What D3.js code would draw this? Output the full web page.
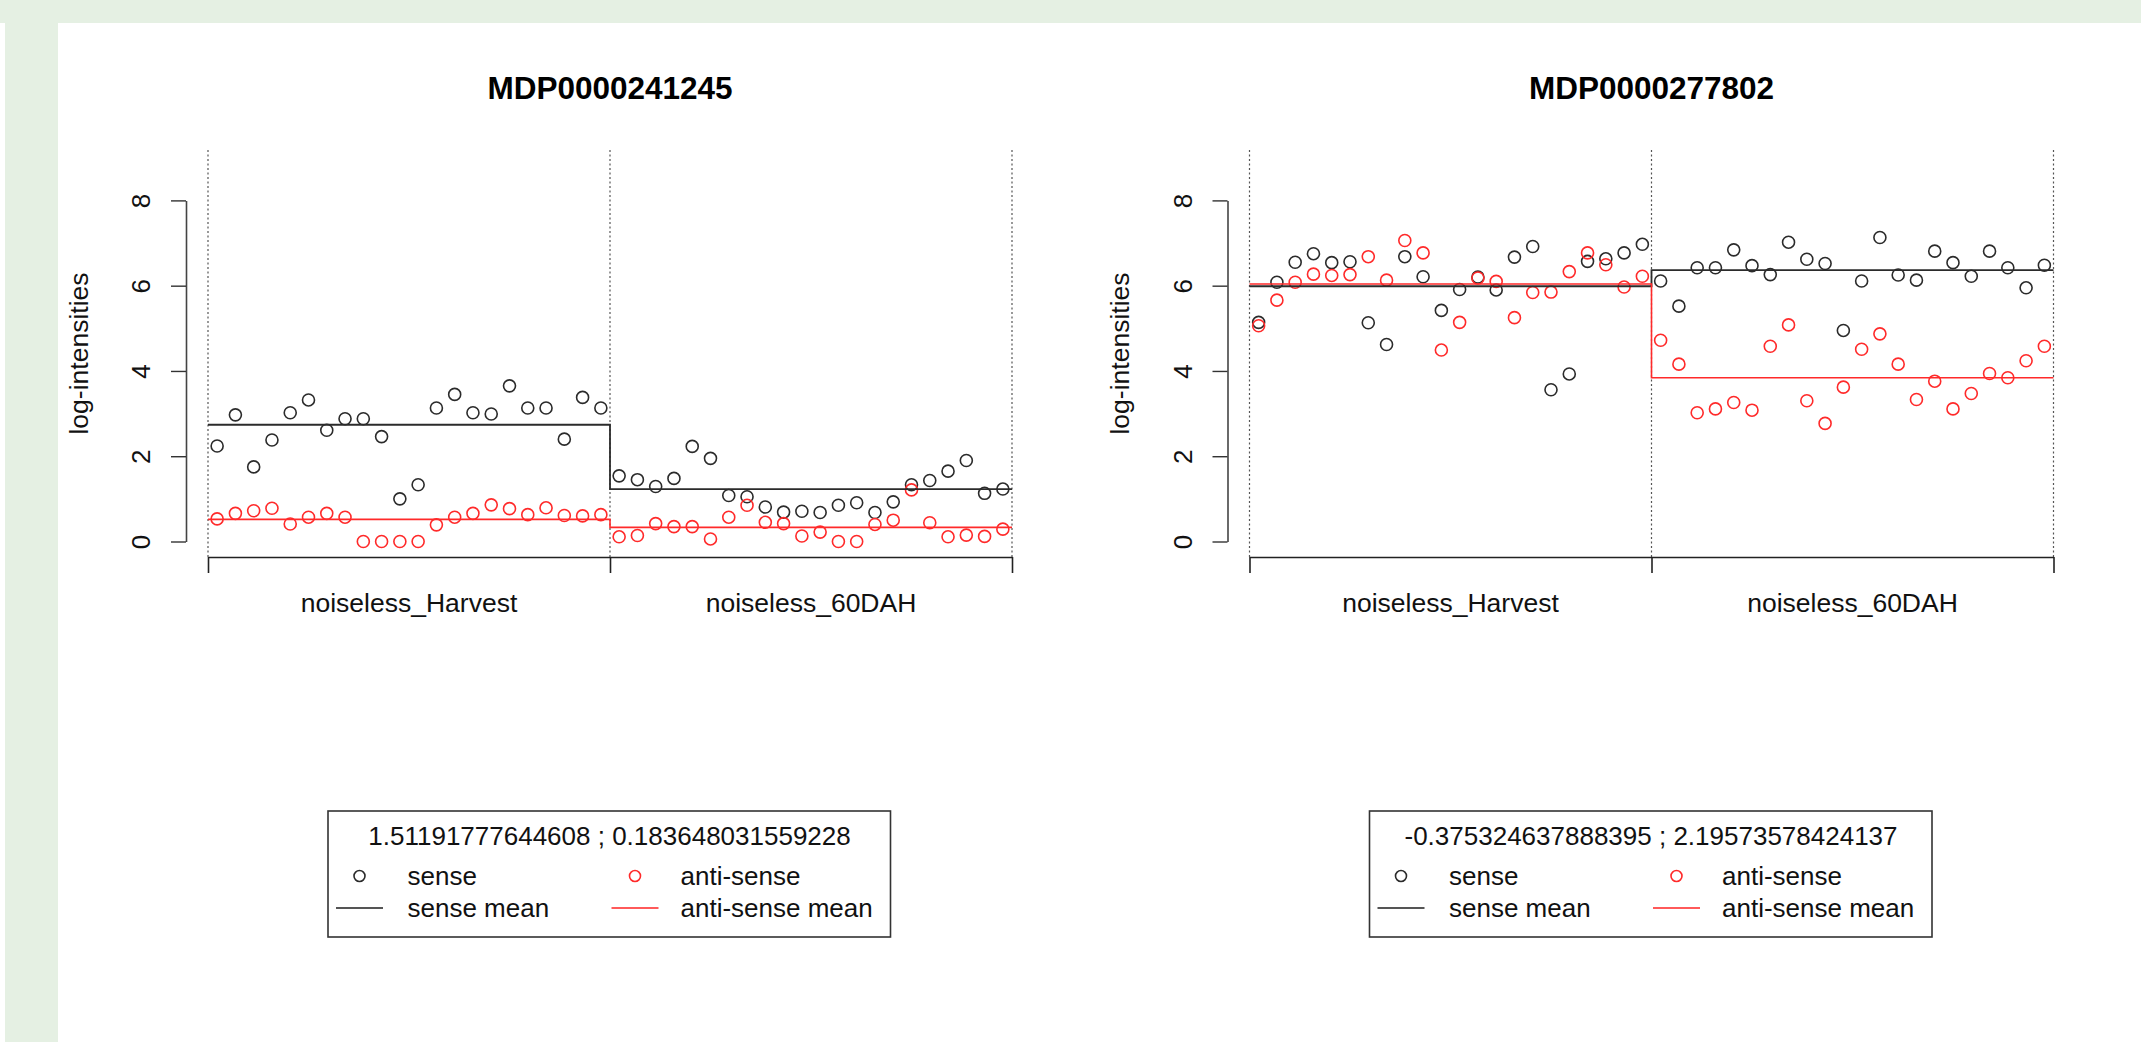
<!DOCTYPE html>
<html>
<head>
<meta charset="utf-8">
<script src="https://cdn.jsdelivr.net/npm/d3@7"></script>
<style>
  html, body { margin: 0; padding: 0; background: #fff; }
  svg { display: block; font-family: "Liberation Sans", Arial, Helvetica, sans-serif; }
</style>
</head>
<body>
<div data-output></div>
<script>
const SIZE = { WIDTH: 2141, HEIGHT: 1042 };

// chart data
const titles = ['MDP0000241245', 'MDP0000277802'];
const groups = ['noiseless_Harvest', 'noiseless_60DAH'];
const yTicks = [0, 2, 4, 6, 8];
const legendTitles = [
  '1.51191777644608 ; 0.183648031559228',
  '-0.375324637888395 ; 2.19573578424137'
];
const legendLabels = ['sense', 'anti-sense', 'sense mean', 'anti-sense mean'];

// MDP0000241245 (22 Harvest samples, then 22 60DAH samples)
const sense1 = [
  2.24, 2.97, 1.75, 2.38, 3.02, 3.32, 2.61, 2.88, 2.88, 2.46, 1.00,
  1.33, 3.13, 3.45, 3.02, 2.99, 3.65, 3.13, 3.13, 2.40, 3.38, 3.13,
  1.54, 1.45, 1.29, 1.48, 2.23, 1.95, 1.08, 1.05, 0.81, 0.69, 0.71,
  0.68, 0.85, 0.91, 0.68, 0.93, 1.33, 1.43, 1.65, 1.90, 1.13, 1.23
];
const anti1 = [
  0.53, 0.66, 0.72, 0.78, 0.41, 0.57, 0.66, 0.57, 0.00, 0.00, 0.00,
  0.00, 0.39, 0.57, 0.66, 0.86, 0.77, 0.63, 0.79, 0.61, 0.60, 0.63,
  0.11, 0.14, 0.42, 0.35, 0.35, 0.06, 0.57, 0.85, 0.45, 0.42, 0.13,
  0.22, 0.00, 0.00, 0.40, 0.50, 1.21, 0.44, 0.11, 0.15, 0.12, 0.29
];

// MDP0000277802
const sense2 = [
  5.14, 6.08, 6.55, 6.75, 6.54, 6.56, 5.13, 4.62, 6.68, 6.21, 5.42,
  5.91, 6.20, 5.90, 6.67, 6.92, 3.56, 3.93, 6.57, 6.63, 6.77, 6.97,
  6.11, 5.52, 6.42, 6.42, 6.84, 6.47, 6.26, 7.02, 6.62, 6.52, 4.95,
  6.11, 7.13, 6.25, 6.13, 6.81, 6.54, 6.22, 6.81, 6.42, 5.95, 6.48
];
const anti2 = [
  5.06, 5.66, 6.08, 6.27, 6.24, 6.26, 6.68, 6.13, 7.06, 6.77, 4.49,
  5.14, 6.18, 6.10, 5.25, 5.84, 5.85, 6.33, 6.77, 6.49, 5.97, 6.22,
  4.72, 4.16, 3.02, 3.11, 3.26, 3.08, 4.58, 5.08, 3.30, 2.77, 3.62,
  4.51, 4.87, 4.16, 3.33, 3.76, 3.11, 3.47, 3.94, 3.84, 4.24, 4.58
];

const senseData = [sense1, sense2];
const antiData = [anti1, anti2];

const COLORS = { sense: '#2b2b2b', anti: '#ff2a2a', bg: '#e5f0e3' };

const PLOT = { TOP: 150, BOTTOM: 557, WIDTH: 804 };
const panelLeft = [208, 1249.5];

const svg = d3.select('[data-output]').append('svg')
  .attr('width', SIZE.WIDTH)
  .attr('height', SIZE.HEIGHT);

// page frame
svg.append('rect').attr('x', 0).attr('y', 0).attr('width', SIZE.WIDTH).attr('height', 23).attr('fill', COLORS.bg);
svg.append('rect').attr('x', 5).attr('y', 0).attr('width', 53).attr('height', SIZE.HEIGHT).attr('fill', COLORS.bg);

const y = d3.scaleLinear().domain([0, 8]).range([541.5, 200.4]);

titles.forEach((title, p) => {
  const left = panelLeft[p];
  const n = senseData[p].length;
  const half = n / groups.length;
  const x = d3.scaleLinear().domain([0, n]).range([left, left + PLOT.WIDTH]);
  const g = svg.append('g');
  const cx = left + PLOT.WIDTH / 2;

  // title
  g.append('text')
    .attr('x', cx).attr('y', 99)
    .attr('text-anchor', 'middle')
    .attr('font-size', 31.5).attr('font-weight', 'bold')
    .text(title);

  // dotted group separators
  g.selectAll('.sep').data([0, half, n]).enter().append('line')
    .attr('x1', d => x(d)).attr('x2', d => x(d))
    .attr('y1', PLOT.TOP).attr('y2', PLOT.BOTTOM)
    .attr('stroke', '#555').attr('stroke-width', 1.2)
    .attr('stroke-dasharray', '2,2.5');

  // y axis
  const yAxis = g.append('g')
    .attr('transform', `translate(${left - 22}, 0)`)
    .call(d3.axisLeft(y).tickValues(yTicks).tickSize(15).tickSizeOuter(0).tickPadding(0));
  yAxis.select('.domain').attr('stroke', '#444').attr('stroke-width', 1.6);
  yAxis.selectAll('.tick line').attr('stroke', '#333').attr('stroke-width', 1.4);
  yAxis.selectAll('.tick text')
    .attr('font-size', 26).attr('fill', '#111')
    .attr('text-anchor', 'middle')
    .attr('x', null).attr('dy', null)
    .attr('transform', 'translate(-45, 0) rotate(-90)')
    .attr('dy', '0.36em');

  // y label
  g.append('text')
    .attr('transform', `translate(${left - 130}, ${(PLOT.TOP + PLOT.BOTTOM) / 2}) rotate(-90)`)
    .attr('text-anchor', 'middle').attr('dy', '0.36em')
    .attr('font-size', 26.5).attr('fill', '#111')
    .text('log-intensities');

  // x axis
  const xAxis = g.append('g')
    .attr('transform', `translate(0, ${PLOT.BOTTOM})`)
    .call(d3.axisBottom(x).tickValues([0, half, n]).tickSize(16).tickSizeOuter(0).tickFormat(''));
  xAxis.select('.domain').attr('stroke', '#222').attr('stroke-width', 1.6);
  xAxis.selectAll('.tick line').attr('stroke', '#222').attr('stroke-width', 1.6);

  g.selectAll('.glabel').data(groups).enter().append('text')
    .attr('x', (d, i) => x(half * i + half / 2))
    .attr('y', 612)
    .attr('text-anchor', 'middle')
    .attr('font-size', 26.5).attr('fill', '#111')
    .text(d => d);

  // points
  g.selectAll('.sense').data(senseData[p]).enter().append('circle')
    .attr('cx', (d, i) => x(i + 0.5)).attr('cy', d => y(d)).attr('r', 6)
    .attr('fill', 'none').attr('stroke', COLORS.sense).attr('stroke-width', 1.6);
  g.selectAll('.anti').data(antiData[p]).enter().append('circle')
    .attr('cx', (d, i) => x(i + 0.5)).attr('cy', d => y(d)).attr('r', 6)
    .attr('fill', 'none').attr('stroke', COLORS.anti).attr('stroke-width', 1.6);

  // group means as step lines
  const means = arr => {
    const m = groups.map((_, k) => d3.mean(arr.slice(k * half, (k + 1) * half)));
    return [[0, m[0]], [half, m[1]], [n, m[1]]];
  };
  const stepLine = d3.line().x(d => x(d[0])).y(d => y(d[1])).curve(d3.curveStepAfter);
  g.append('path').datum(means(senseData[p])).attr('d', stepLine)
    .attr('fill', 'none').attr('stroke', COLORS.sense).attr('stroke-width', 1.8);
  g.append('path').datum(means(antiData[p])).attr('d', stepLine)
    .attr('fill', 'none').attr('stroke', COLORS.anti).attr('stroke-width', 1.6);

  // legend
  const lg = svg.append('g').attr('transform', `translate(${cx - 0.5}, 0)`);
  lg.append('rect')
    .attr('x', -281.5).attr('y', 811).attr('width', 562.5).attr('height', 126)
    .attr('fill', 'none').attr('stroke', '#333').attr('stroke-width', 1.6);
  lg.append('text')
    .attr('x', 0).attr('y', 845).attr('text-anchor', 'middle')
    .attr('font-size', 26).attr('fill', '#111')
    .text(legendTitles[p]);

  const entries = [
    { label: legendLabels[0], col: COLORS.sense, kind: 'pt', sx: -250, tx: -202, ty: 876 },
    { label: legendLabels[1], col: COLORS.anti, kind: 'pt', sx: 25.5, tx: 71, ty: 876 },
    { label: legendLabels[2], col: '#555', kind: 'ln', sx: -250, tx: -202, ty: 908 },
    { label: legendLabels[3], col: '#ff5a5a', kind: 'ln', sx: 25.5, tx: 71, ty: 908 }
  ];
  entries.forEach(e => {
    if (e.kind === 'pt') {
      lg.append('circle').attr('cx', e.sx).attr('cy', e.ty).attr('r', 5.5)
        .attr('fill', 'none').attr('stroke', e.col).attr('stroke-width', 1.6);
    } else {
      lg.append('line').attr('x1', e.sx - 23.5).attr('x2', e.sx + 23.5)
        .attr('y1', e.ty).attr('y2', e.ty)
        .attr('stroke', e.col).attr('stroke-width', 2);
    }
    lg.append('text').attr('x', e.tx).attr('y', e.ty).attr('dy', '0.34em')
      .attr('font-size', 26).attr('fill', '#111')
      .text(e.label);
  });
});
</script>
</body>
</html>
